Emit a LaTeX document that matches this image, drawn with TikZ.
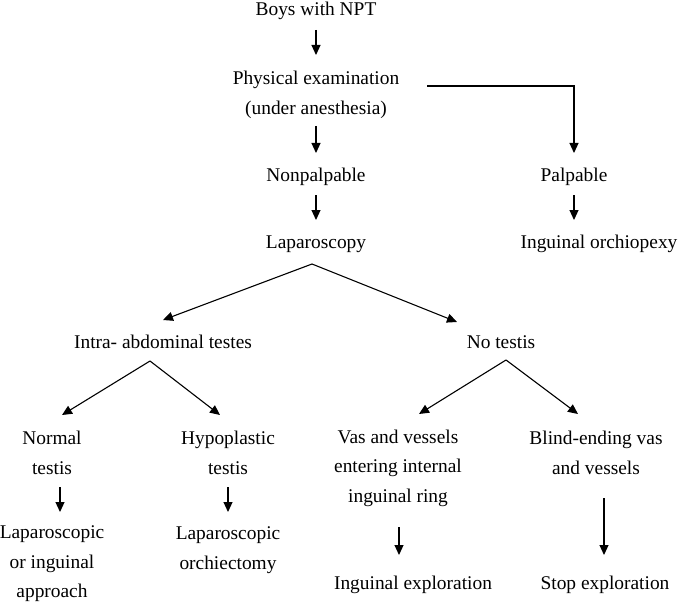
\documentclass[tikz,border=0pt]{standalone}
\usepackage{fontspec}
\setmainfont{Liberation Serif}
\usetikzlibrary{arrows.meta}
\begin{document}
\begin{tikzpicture}[x=1pt,y=-1pt,
  lbl/.style={inner sep=0pt,align=center,font=\fontsize{19.4}{29.5}\selectfont},
  arr/.style={line width=1.1pt,-{Triangle[length=10pt,width=9pt]}}]
\useasboundingbox (0,0) rectangle (682,604);
\node[lbl] (boys) at (316,11) {Boys with NPT};
\node[lbl] (phys) at (316,95) {Physical examination\\(under anesthesia)};
\node[lbl] (nonp) at (316,177) {Nonpalpable};
\node[lbl] (palp) at (574,177) {Palpable};
\node[lbl] (lap) at (316,244) {Laparoscopy};
\node[lbl] (ing) at (599,244) {Inguinal orchiopexy};
\node[lbl] (intra) at (163,342) {Intra- abdominal testes};
\node[lbl] (note) at (501,342) {No testis};
\node[lbl] (normal) at (52,453) {Normal\\testis};
\node[lbl] (hypo) at (228,453) {Hypoplastic\\testis};
\node[lbl] (vas) at (398,468) {Vas and vessels\\entering internal\\inguinal ring};
\node[lbl] (blind) at (596,453) {Blind-ending vas\\and vessels};
\node[lbl] (lapinq) at (52,564) {Laparoscopic\\or inguinal\\approach};
\node[lbl] (lapor) at (228,550) {Laparoscopic\\orchiectomy};
\node[lbl] (ingexp) at (413,585) {Inguinal exploration};
\node[lbl] (stop) at (605,585) {Stop exploration};
% top chain
\draw[arr] ([yshift=-19pt]boys.center) -- ([yshift=40pt]phys.center);
\draw[arr] ([xshift=28pt,yshift=9pt]phys.east) -| ([yshift=24pt]palp.center);
\draw[arr] ([yshift=-31pt]phys.center) -- ([yshift=24pt]nonp.center);
\draw[arr] ([yshift=-18pt]nonp.center) -- ([yshift=24pt]lap.center);
\draw[arr] ([yshift=-18pt]palp.center) -- ([yshift=24pt]palp |- ing);
% laparoscopy fan
\draw[arr] ([xshift=-4pt,yshift=-20pt]lap.center) -- ([yshift=22pt]intra.center);
\draw[arr] ([xshift=-4pt,yshift=-20pt]lap.center) -- ([xshift=-44pt,yshift=20pt]note.center);
% intra fan
\draw[arr] ([xshift=-13pt,yshift=-19pt]intra.center) -- ([xshift=10pt,yshift=38pt]normal.center);
\draw[arr] ([xshift=-13pt,yshift=-19pt]intra.center) -- ([xshift=-8pt,yshift=38pt]hypo.center);
% no testis fan
\draw[arr] ([xshift=5pt,yshift=-18pt]note.center) -- ([xshift=21pt,yshift=54pt]vas.center);
\draw[arr] ([xshift=5pt,yshift=-18pt]note.center) -- ([xshift=-18pt,yshift=39pt]blind.center);
% bottom arrows
\draw[arr] ([xshift=8pt,yshift=-34pt]normal.center) -- ([xshift=8pt,yshift=52pt]lapinq.center);
\draw[arr] ([yshift=-34pt]hypo.center) -- ([yshift=38pt]lapor.center);
\draw[arr] ([xshift=1pt,yshift=-59pt]vas.center) -- ([xshift=-14pt,yshift=30pt]ingexp.center);
\draw[arr] ([xshift=8pt,yshift=-45pt]blind.center) -- ([xshift=-1pt,yshift=30pt]stop.center);
\end{tikzpicture}
\end{document}
